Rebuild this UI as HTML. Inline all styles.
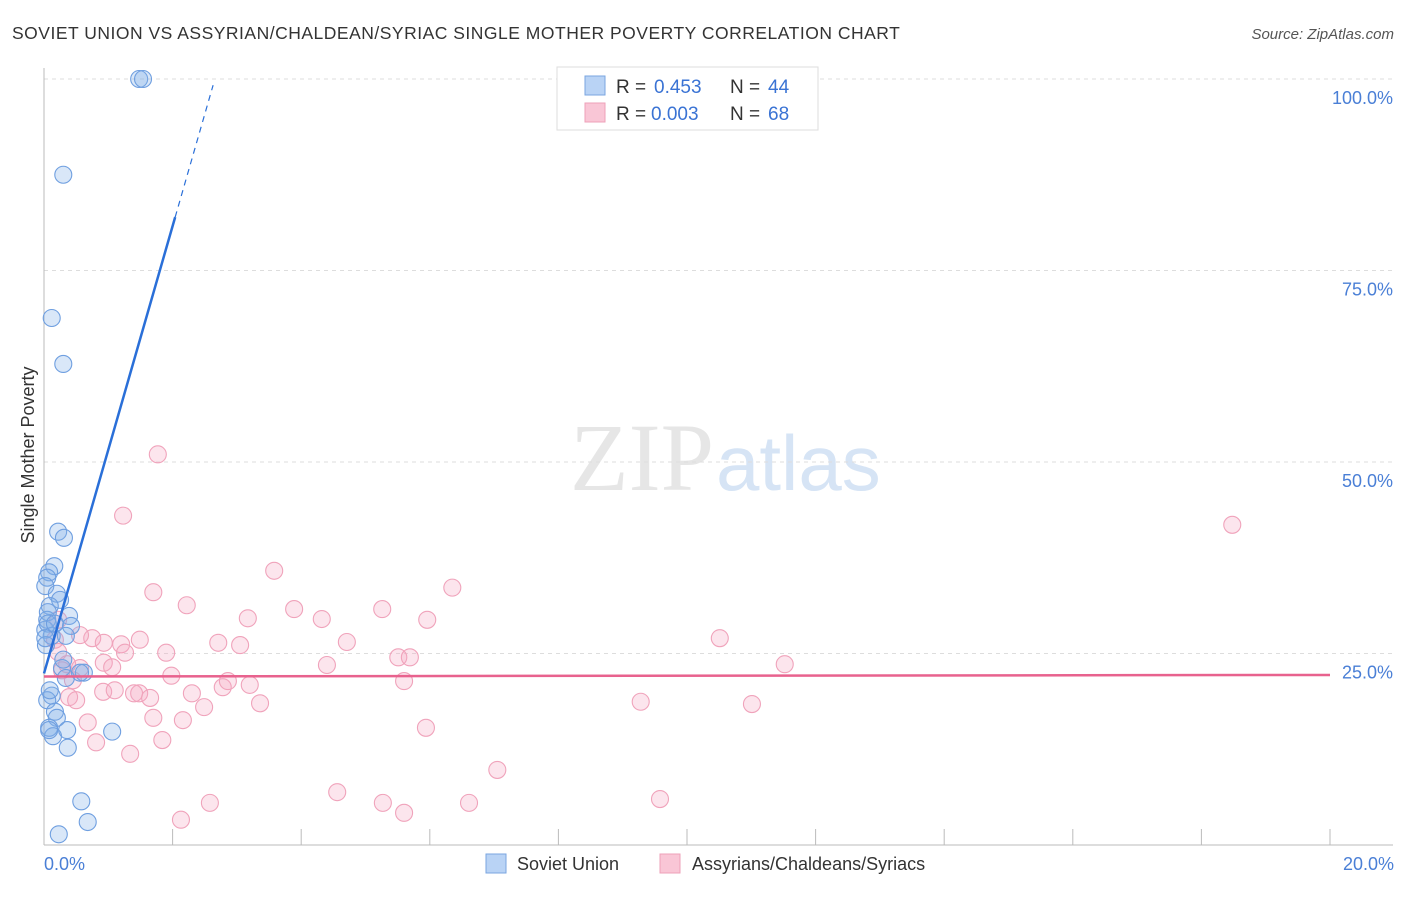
<!DOCTYPE html>
<html><head><meta charset="utf-8"><style>
body{margin:0;background:#fff;font-family:"Liberation Sans",sans-serif}
</style></head><body>
<svg id="c" width="1406" height="892" xmlns="http://www.w3.org/2000/svg" style="font-family:'Liberation Sans',sans-serif">
<text x="12" y="39" font-size="17.5" fill="#333" letter-spacing="0.5">SOVIET UNION VS ASSYRIAN/CHALDEAN/SYRIAC SINGLE MOTHER POVERTY CORRELATION CHART</text>
<text x="1394" y="39" font-size="15" fill="#555" text-anchor="end" font-style="italic">Source: ZipAtlas.com</text>
<text x="714" y="490" font-size="96" fill="#e6e6e6" text-anchor="end" font-family="Liberation Serif">ZIP</text>
<text x="716" y="490" font-size="78" fill="#d6e4f5">atlas</text>
<g id="grid"></g><g id="pts"></g><g id="lines"></g>
<text x="34" y="455" font-size="18" fill="#333" text-anchor="middle" transform="rotate(-90 34 455)">Single Mother Poverty</text>
<text x="44" y="870" font-size="18" fill="#4a7fd6">0.0%</text>
<text x="1394" y="870" font-size="18" fill="#4a7fd6" text-anchor="end">20.0%</text>
<g>
<rect x="557" y="67" width="261" height="63" fill="#fff" stroke="#ddd"/>
<rect x="585" y="76" width="20" height="19" fill="#b9d3f5" stroke="#7aa6e0"/>
<rect x="585" y="103" width="20" height="19" fill="#f9c6d6" stroke="#eea0b8"/>
<text x="616" y="93" font-size="19" fill="#333">R =</text>
<text x="654" y="93" font-size="19" fill="#3a73d4">0.453</text>
<text x="730" y="93" font-size="19" fill="#333">N =</text>
<text x="768" y="93" font-size="19" fill="#3a73d4">44</text>
<text x="616" y="120" font-size="19" fill="#333">R =</text>
<text x="651" y="120" font-size="19" fill="#3a73d4">0.003</text>
<text x="730" y="120" font-size="19" fill="#333">N =</text>
<text x="768" y="120" font-size="19" fill="#3a73d4">68</text>
</g>
<g>
<rect x="486" y="854" width="20" height="19" fill="#b9d3f5" stroke="#7aa6e0"/>
<text x="517" y="870" font-size="18" fill="#333">Soviet Union</text>
<rect x="660" y="854" width="20" height="19" fill="#f9c6d6" stroke="#eea0b8"/>
<text x="692" y="870" font-size="18" fill="#333">Assyrians/Chaldeans/Syriacs</text>
</g>
</svg>
<script>
const yTicks=[25,50,75,100];
const yTickLabels=["25.0%","50.0%","75.0%","100.0%"];
const xTicks=[0,2,4,6,8,10,12,14,16,18,20];
const blueX=[1.48,1.54,0.30,0.12,0.30,0.22,0.31,0.16,0.08,0.05,0.02,0.20,0.25,0.09,0.39,0.05,0.42,0.02,0.12,0.34,0.03,0.28,0.34,0.62,0.12,0.05,0.17,0.20,0.08,0.14,0.36,0.37,1.06,0.58,0.68,0.23,0.06,0.06,0.17,0.02,0.56,0.09,0.08,0.30];
const blueY=[100,100,87.5,68.8,62.8,40.9,40.1,36.4,35.6,34.9,33.8,32.8,32.0,31.2,29.9,29.4,28.6,28.1,27.3,27.3,26.1,23.1,21.8,22.5,19.5,18.9,17.4,16.6,15.3,14.2,15.0,12.7,14.8,5.7,3.0,1.4,30.4,28.9,28.9,27.0,22.5,20.2,15.0,24.2];
const pinkX=[1.23,1.70,2.22,0.75,1.20,1.49,0.56,0.93,1.26,1.90,0.22,0.28,0.56,0.93,1.06,1.98,0.92,1.48,0.39,0.50,1.10,2.16,1.70,1.84,0.81,1.34,2.58,2.13,0.22,0.17,0.36,1.77,2.71,3.17,3.58,3.89,4.32,4.71,4.40,5.26,5.96,6.35,5.51,5.69,5.60,3.20,2.78,2.86,3.36,2.30,2.49,5.94,7.05,4.56,5.27,5.60,6.61,9.58,9.28,11.01,10.51,11.52,18.48,1.65,3.05,0.68,0.45,1.40];
const pinkY=[43.0,33.0,31.3,27.0,26.2,26.8,27.4,26.4,25.1,25.1,25.2,22.8,23.1,23.8,23.2,22.1,20.0,19.8,19.3,18.9,20.2,16.3,16.6,13.7,13.4,11.9,5.5,3.3,29.4,26.8,23.6,51.0,26.4,29.6,35.8,30.8,29.5,26.5,23.5,30.8,29.4,33.6,24.5,24.5,21.4,20.9,20.6,21.4,18.5,19.8,18.0,15.3,9.8,6.9,5.5,4.2,5.5,6.0,18.7,18.4,27.0,23.6,41.8,19.2,26.1,16.0,21.5,19.8];
const blueTrend=[22.4,29.2];
const pinkTrend=[22.0,0.01];
const NS="http://www.w3.org/2000/svg";
const X=v=>44+v*(1330-44)/20, Y=v=>845-v*(845-79)/100;
function mk(p,t,a){const e=document.createElementNS(NS,t);for(const k in a)e.setAttribute(k,a[k]);p.appendChild(e);return e;}
const g=document.getElementById('grid');
yTicks.forEach((t,i)=>{
 let l=mk(g,'line',{x1:44,x2:1393,y1:Y(t),y2:Y(t),stroke:'#ddd','stroke-dasharray':'4,4'});
 
 
 let tx=mk(g,'text',{x:1393,y:Y(t)+25,'font-size':18,fill:'#4a7fd6','text-anchor':'end'});tx.textContent=yTickLabels[i];
 
 
});
let ax=mk(g,'line',{x1:44,x2:44,y1:68,y2:845,stroke:'#bbb'});


let bx=mk(g,'line',{x1:44,x2:1393,y1:845,y2:845,stroke:'#bbb'});


xTicks.forEach(t=>{let l=mk(g,'line',{x1:X(t),x2:X(t),y1:829,y2:845,stroke:'#bbb'});
 
 });
const p=document.getElementById('pts');
pinkX.forEach((v,i)=>{let c=mk(p,'circle',{cx:X(v),cy:Y(pinkY[i]),r:8.5,fill:'rgba(246,168,194,0.3)',stroke:'#f0a3bb','stroke-width':1.1});
 
 });
blueX.forEach((v,i)=>{let c=mk(p,'circle',{cx:X(v),cy:Y(blueY[i]),r:8.5,fill:'rgba(130,175,232,0.3)',stroke:'#6f9fe0','stroke-width':1.1});
 
 });
const L=document.getElementById('lines');
let b1=mk(L,'line',{x1:X(0),y1:Y(blueTrend[0]),x2:X(2.04),y2:Y(blueTrend[0]+blueTrend[1]*2.04),stroke:'#2a6fd8','stroke-width':2.5});


let b2=mk(L,'line',{x1:X(2.04),y1:Y(blueTrend[0]+blueTrend[1]*2.04),x2:X(2.63),y2:Y(blueTrend[0]+blueTrend[1]*2.63),stroke:'#2a6fd8','stroke-width':1.2,'stroke-dasharray':'6,5'});


let p1=mk(L,'line',{x1:X(0),y1:Y(pinkTrend[0]),x2:X(20),y2:Y(pinkTrend[0]+pinkTrend[1]*20),stroke:'#e8628e','stroke-width':2.5});


</script>
</body></html>
